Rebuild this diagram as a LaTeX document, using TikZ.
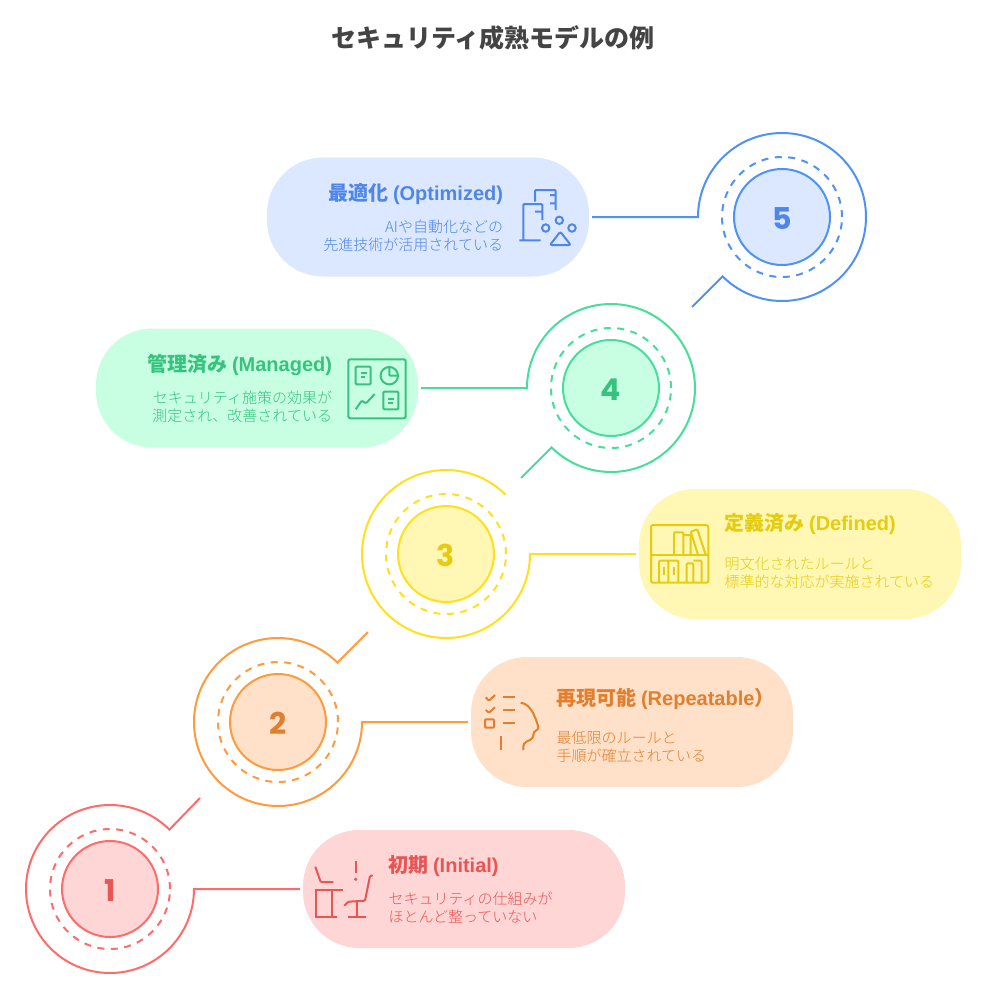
\documentclass[tikz,border=0pt]{standalone}
\usepackage{fontspec}
\setmainfont{Noto Sans CJK JP}
\newfontfamily\latfont{Liberation Sans}
\newfontfamily\numfont{Poppins}
\newfontfamily\thinfont{Noto Sans CJK JP Light}
\usetikzlibrary{shapes,arrows}
\newcommand{\numtext}[1]{\raisebox{-12.5pt}[0pt][0pt]{#1}}
\definecolor{title}{HTML}{444444}
\definecolor{line1}{HTML}{FF6B6B}\definecolor{fill1}{HTML}{FFD6D6}\definecolor{text1}{HTML}{E85555}
\definecolor{line2}{HTML}{FF9A3D}\definecolor{fill2}{HTML}{FFE0C8}\definecolor{text2}{HTML}{E0802F}
\definecolor{line3}{HTML}{FFE01A}\definecolor{fill3}{HTML}{FFF7B3}\definecolor{text3}{HTML}{E5CC10}
\definecolor{line4}{HTML}{45DE9A}\definecolor{fill4}{HTML}{C8FFE3}\definecolor{text4}{HTML}{38C27F}
\definecolor{line5}{HTML}{4F92F7}\definecolor{fill5}{HTML}{DBE8FF}\definecolor{text5}{HTML}{4F86E8}
\begin{document}
\begin{tikzpicture}[x=1pt,y=-1pt,node distance=354pt,line width=2pt]
\tikzstyle{num}=[circle,draw,minimum size=96pt,inner sep=0pt,outer sep=0pt,line width=2pt,font=\numfont\bfseries\fontsize{30}{30}\selectfont]
\tikzstyle{dash ring}=[circle,draw,fill=none,minimum size=120pt,inner sep=0pt,line width=2pt,dash pattern=on 7pt off 6.5pt]
\tikzstyle{ring}=[circle,minimum size=168pt,inner sep=0pt,outer sep=0pt]
\tikzstyle{box}=[draw=none,rounded corners=56pt,minimum width=322pt]
\tikzstyle{head}=[inner sep=0pt,font=\bfseries\fontsize{20}{24}\selectfont]
\tikzstyle{body}=[inner sep=0pt,font=\thinfont\fontsize{15}{18}\selectfont]
\tikzstyle{icon}=[line width=2pt,rounded corners=1pt]
\tikzstyle{wire}=[shorten <=2pt]
\useasboundingbox (0,0) rectangle (987,990);
\node[inner sep=0pt,text=title,font=\bfseries\fontsize{25}{30}\selectfont] (TT) at (493,38) {セキュリティ成熟モデルの例};
% level 1
\node[num,draw=line1,fill=fill1,text=text1] (N1) at (110,889) {\numtext{1}};
\node[dash ring,draw=line1] (D1) at (N1) {};
\node[ring] (R1) at (N1) {};
\node[box,fill=fill1,minimum height=118pt][right of=N1] (B1) {};
\coordinate (E1) at (200,798);
\draw[wire,line1] (B1.west) -- (R1.east) arc[start angle=0,end angle=315,radius=84] -- (E1);
\node[head,text=text1,anchor=west] (H1) at (387.5,866) {初期 {\latfont\bfseries (Initial)}};
\node[body,text=text1,anchor=west,align=left] (T1) at (387.5,908) {セキュリティの仕組みが\\ほとんど整っていない};
% level 2
\node[num,draw=line2,fill=fill2,text=text2] (N2) at (278,722) {\numtext{2}};
\node[dash ring,draw=line2] (D2) at (N2) {};
\node[ring] (R2) at (N2) {};
\node[box,fill=fill2,minimum height=130pt][right of=N2] (B2) {};
\coordinate (E2) at (368,632);
\draw[wire,line2] (B2.west) -- (R2.east) arc[start angle=0,end angle=315,radius=84] -- (E2);
\node[head,text=text2,anchor=west] (H2) at (555.5,699) {再現可能 {\latfont\bfseries (Repeatable}）};
\node[body,text=text2,anchor=west,align=left] (T2) at (555.5,747) {最低限のルールと\\手順が確立されている};
% level 3
\node[num,draw=line3,fill=fill3,text=text3] (N3) at (446,554) {\numtext{3}};
\node[dash ring,draw=line3] (D3) at (N3) {};
\node[ring] (R3) at (N3) {};
\node[box,fill=fill3,minimum height=130pt][right of=N3] (B3) {};
\draw[wire,line3] (B3.west) -- (R3.east) arc[start angle=0,end angle=315,radius=84];
\node[head,text=text3,anchor=west] (H3) at (723.5,524) {定義済み {\latfont\bfseries (Defined)}};
\node[body,text=text3,anchor=west,align=left] (T3) at (723.5,573) {明文化されたルールと\\標準的な対応が実施されている};
% level 4
\node[num,draw=line4,fill=fill4,text=text4] (N4) at (611,388) {\numtext{4}};
\node[dash ring,draw=line4] (D4) at (N4) {};
\node[ring] (R4) at (N4) {};
\node[box,fill=fill4,minimum height=119pt][left of=N4] (B4) {};
\coordinate (E4) at (521,478);
\draw[wire,line4] (B4.east) -- (R4.west) arc[start angle=180,end angle=495,radius=84] -- (E4);
\node[head,text=text4,anchor=east] (H4) at (333,365) {管理済み {\latfont\bfseries (Managed)}};
\node[body,text=text4,anchor=east,align=right] (T4) at (333,407) {セキュリティ施策の効果が\\測定され、改善されている};
% level 5
\node[num,draw=line5,fill=fill5,text=text5] (N5) at (782,217) {\numtext{5}};
\node[dash ring,draw=line5] (D5) at (N5) {};
\node[ring] (R5) at (N5) {};
\node[box,fill=fill5,minimum height=119pt][left of=N5] (B5) {};
\coordinate (E5) at (692,307);
\draw[wire,line5] (B5.east) -- (R5.west) arc[start angle=180,end angle=495,radius=84] -- (E5);
\node[head,text=text5,anchor=east] (H5) at (504,194) {最適化 {\latfont\bfseries (Optimized)}};
\node[body,text=text5,anchor=east,align=right] (T5) at (504,236) {AIや自動化などの\\先進技術が活用されている};
% icon 1: desk and chair
\draw[icon,text1] (315.3,866.7) -- (320.7,882) -- (333.3,882);
\draw[icon,text1] (315.3,890) -- (342.7,890) (316,890) -- (316,916.7) (331.7,890) -- (331.7,916.7) (315.3,916.7) -- (337.3,916.7);
\draw[icon,text1] (355.7,860.7) -- (355.7,872.7);
\fill[text1] (355.7,879.3) circle (1.8);
\draw[icon,text1] (372.7,875.3) -- (370,876) -- (365,900.7) -- (348.3,901.7) -- (344.3,905.7);
\draw[icon,text1] (357.3,901.7) -- (357.3,916.7) (348.3,916.7) -- (365.7,916.7);
% icon 2: checklist and head
\draw[icon,text2] (485.7,697.3) -- (489,700.7) -- (495,695) (485.7,710) -- (489,712.7) -- (495,707.3);
\draw[icon,text2] (485,719.3) rectangle (494,727.7);
\draw[icon,text2] (503.3,697.3) -- (515,697.3) (503.3,710) -- (515,710) (503.3,722.7) -- (515,722.7) (501.3,735.7) -- (501.3,750);
\draw[icon,text2,rounded corners=3pt] (520.7,702.7) .. controls (529,704) and (534,712) .. (539,729.3) -- (533.3,731.7) -- (533.3,738.3) -- (523.3,743.3) -- (523.3,750);
% icon 3: bookshelf
\draw[icon,text3,rounded corners=2pt] (651,525) rectangle (708.3,582.7);
\draw[icon,text3] (651,554.7) -- (708.3,554.7);
\draw[icon,text3] (674,554.7) -- (674,532.3) -- (683.3,532.3) -- (683.3,554.7) (683.3,535) -- (690.7,535) -- (690.7,554.7);
\draw[icon,text3] (698,554.7) -- (690.7,531.7) -- (697.3,529.3) -- (705.7,554.7);
\draw[icon,text3] (659,582.7) -- (659,560.7) -- (668.3,560.7) -- (668.3,582.7) (668.3,560.7) -- (678.3,560.7) -- (678.3,582.7);
\draw[icon,text3] (686.7,582.7) -- (686.7,563.3) -- (693.3,563.3) -- (693.3,582.7) (693.3,560.7) -- (701.7,560.7) -- (701.7,582.7);
\draw[icon,text3] (664,566.7) -- (664,575) (674,566.7) -- (674,575);
% icon 4: dashboard
\draw[icon,text4,rounded corners=2pt] (348.3,359.3) rectangle (405.7,418.3);
\draw[icon,text4] (355.7,366.7) rectangle (370.7,384.3) (383.3,391.7) rectangle (398.3,409.3);
\draw[icon,text4] (360.7,372.7) -- (366.7,372.7) (360.7,377.3) -- (365,377.3) (388.3,399.3) -- (394,399.3) (388.3,403.3) -- (392.7,403.3);
\draw[icon,text4] (389.3,375.7) circle (8.7);
\draw[icon,text4] (389.3,367) -- (389.3,375.7) -- (398,375.7);
\draw[icon,text4] (355.7,409.3) -- (361.7,400.7) -- (366,403.3) -- (374.7,394);
% icon 5: buildings and shapes
\draw[icon,text5] (535,201.7) -- (535,190) -- (555.7,190) -- (555.7,210) (550,195) -- (555.7,195) (550,203.3) -- (555.7,203.3);
\draw[icon,text5] (523.3,240) -- (523.3,204) -- (542.3,204) -- (542.3,220) (535,211.7) -- (542.3,211.7) (519.3,240.3) -- (540.7,240.3);
\draw[icon,text5] (559.3,220.3) circle (3.7) (545.7,228) circle (3.7) (572,228) circle (3.7);
\draw[icon,text5,rounded corners=2pt] (560.3,231.7) -- (550,245) -- (570.7,245) -- cycle;
\end{tikzpicture}
\end{document}
